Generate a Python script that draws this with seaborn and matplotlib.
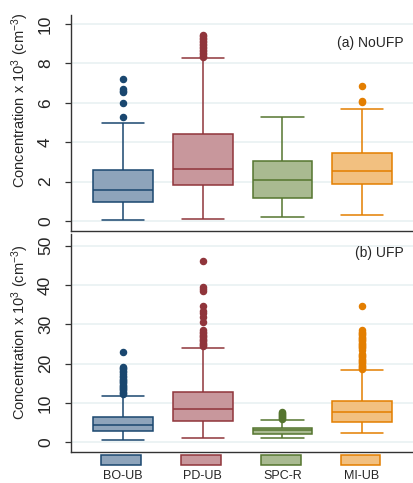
import numpy as np
import pandas as pd
import seaborn as sns
import matplotlib
matplotlib.use("Agg")
import matplotlib.pyplot as plt
from matplotlib.patches import Rectangle
from matplotlib.transforms import blended_transform_factory

# Sites (categories) and colours
sites = ["BO-UB", "PD-UB", "SPC-R", "MI-UB"]
edge_colors = ["#1a476f", "#90353b", "#55752f", "#e37e00"]
fill_colors = ["#8ea4bb", "#c8979c", "#a9ba91", "#f2c080"]

# Box summaries: low whisker, Q1, median, Q3, high whisker (x 10^3 cm^-3)
noufp_low = [0.07, 0.10, 0.20, 0.32]
noufp_q1 = [0.95, 1.83, 1.15, 1.90]
noufp_med = [1.60, 2.64, 2.08, 2.53]
noufp_q3 = [2.59, 4.41, 3.03, 3.44]
noufp_high = [5.00, 8.27, 5.29, 5.71]
noufp_out = [
    [5.27, 6.0, 6.54, 6.62, 6.7, 7.22],
    [8.35, 8.4, 8.47, 8.55, 8.62, 8.7, 8.77, 8.85, 8.92, 9.0, 9.07,
     9.15, 9.22, 9.3, 9.37, 9.45],
    [],
    [6.02, 6.07, 6.85],
]

ufp_low = [0.5, 1.0, 1.0, 2.3]
ufp_q1 = [2.9, 5.4, 2.03, 5.3]
ufp_med = [4.3, 8.6, 3.05, 7.8]
ufp_q3 = [6.5, 12.9, 3.56, 10.5]
ufp_high = [11.85, 24.1, 5.7, 17.8]
ufp_out = [
    [12.3, 12.6, 12.9, 13.2, 13.5, 13.8, 14.1, 14.4, 14.7, 15.0, 15.3, 15.6,
     15.9, 16.2, 16.6, 17.0, 17.4, 17.8, 18.2, 18.6, 18.9, 19.1, 22.9],
    [24.5, 24.8, 25.1, 25.4, 25.7, 26.0, 26.3, 26.7, 27.0, 27.3, 27.7, 28.1,
     28.6, 30.5, 31.8, 32.9, 33.5, 34.7, 38.5, 39.1, 39.6, 46.2],
    [5.95, 6.2, 6.45, 6.7, 6.95, 7.2, 7.45, 7.65],
    [18.3, 18.6, 18.9, 19.2, 19.5, 19.8, 20.1, 20.4, 20.7, 21.0, 21.3, 21.6,
     21.9, 22.2, 22.6, 23.6, 23.9, 24.2, 24.5, 24.8, 25.1, 25.4, 25.7, 26.0,
     26.3, 26.6, 26.9, 27.2, 27.5, 27.8, 28.1, 28.5, 34.7],
]


def sample_from_summary(low, q1, med, q3, high, out, n=100):
    # repeat the quartile values so the box statistics come out exactly as read
    return [low] + [q1] * n + [med] * n + [q3] * n + [high] + list(out)


def long_table(lows, q1s, meds, q3s, highs, outs):
    rows = []
    for site, a, b, c, d, e, o in zip(sites, lows, q1s, meds, q3s, highs, outs):
        for v in sample_from_summary(a, b, c, d, e, o):
            rows.append((site, v))
    return pd.DataFrame(rows, columns=["site", "conc"])


df_a = long_table(noufp_low, noufp_q1, noufp_med, noufp_q3, noufp_high, noufp_out)
df_b = long_table(ufp_low, ufp_q1, ufp_med, ufp_q3, ufp_high, ufp_out)

sns.set_theme(style="white")
plt.rcParams["font.family"] = ["Liberation Sans", "DejaVu Sans"]
plt.rcParams["mathtext.fontset"] = "custom"
plt.rcParams["mathtext.rm"] = "Liberation Sans"
plt.rcParams["mathtext.it"] = "Liberation Sans:italic"

fig = plt.figure(figsize=(4.14, 4.83), dpi=100)
ax_a = fig.add_axes([0.1715, 0.5224, 0.8285, 0.4466])
ax_b = fig.add_axes([0.1715, 0.0648, 0.8285, 0.4507])

ylabel = "Concentration x 10$^{3}$ (cm$^{-3}$)"

for ax, df in [(ax_a, df_a), (ax_b, df_b)]:
    for site, fc, ec in zip(sites, fill_colors, edge_colors):
        sns.boxplot(data=df[df["site"] == site], x="site", y="conc", order=sites,
                    color=fc, linecolor=ec, linewidth=1.1, width=0.75,
                    saturation=1, whis=1.5, ax=ax, capwidths=0.53,
                    flierprops=dict(marker="o", markerfacecolor=ec,
                                    markeredgecolor=ec, markersize=4.4))
    ax.set_xlim(-0.652, 3.651)
    ax.set_xlabel("")
    ax.set_ylabel(ylabel, fontsize=10.5)
    ax.yaxis.grid(True, color="#eaf2f3", lw=1.3)
    ax.set_axisbelow(True)
    for s in ["top", "right"]:
        ax.spines[s].set_visible(False)
    for s in ["left", "bottom"]:
        ax.spines[s].set_color("#333333")
        ax.spines[s].set_linewidth(1.0)
    ax.tick_params(axis="y", left=True, length=4, width=0.9, color="#333333",
                   labelsize=12.5, labelrotation=90, pad=9)
    ax.tick_params(axis="x", length=0)

# Top panel
ax_a.set_ylim(-0.49, 10.46)
ax_a.set_yticks([0, 2, 4, 6, 8, 10])
for t in ax_a.get_yticklabels():
    t.set_va("center")
ax_a.set_xticklabels([])
ax_a.text(0.97, 0.87, "(a) NoUFP", transform=ax_a.transAxes, ha="right",
          va="center", fontsize=10)
ax_a.yaxis.set_label_coords(-0.117, 0.606)

# Bottom panel
ax_b.set_ylim(-2.38, 53.0)
ax_b.set_yticks([0, 10, 20, 30, 40, 50])
for t in ax_b.get_yticklabels():
    t.set_va("center")
ax_b.text(0.97, 0.913, "(b) UFP", transform=ax_b.transAxes, ha="right",
          va="center", fontsize=10)
ax_b.yaxis.set_label_coords(-0.117, 0.55)
ax_b.set_xticks(range(len(sites)))
ax_b.set_xticklabels(sites, fontsize=9)
ax_b.tick_params(axis="x", pad=13)

# legend keys under each category
trans = blended_transform_factory(ax_b.transData, ax_b.transAxes)
for pos, fc, ec in zip(ax_b.get_xticks(), fill_colors, edge_colors):
    ax_b.add_patch(Rectangle((pos - 0.27, -0.063), 0.5, 0.046, transform=trans,
                             facecolor=fc, edgecolor=ec, lw=1.1, clip_on=False))

fig.savefig("out.png", dpi=100)
